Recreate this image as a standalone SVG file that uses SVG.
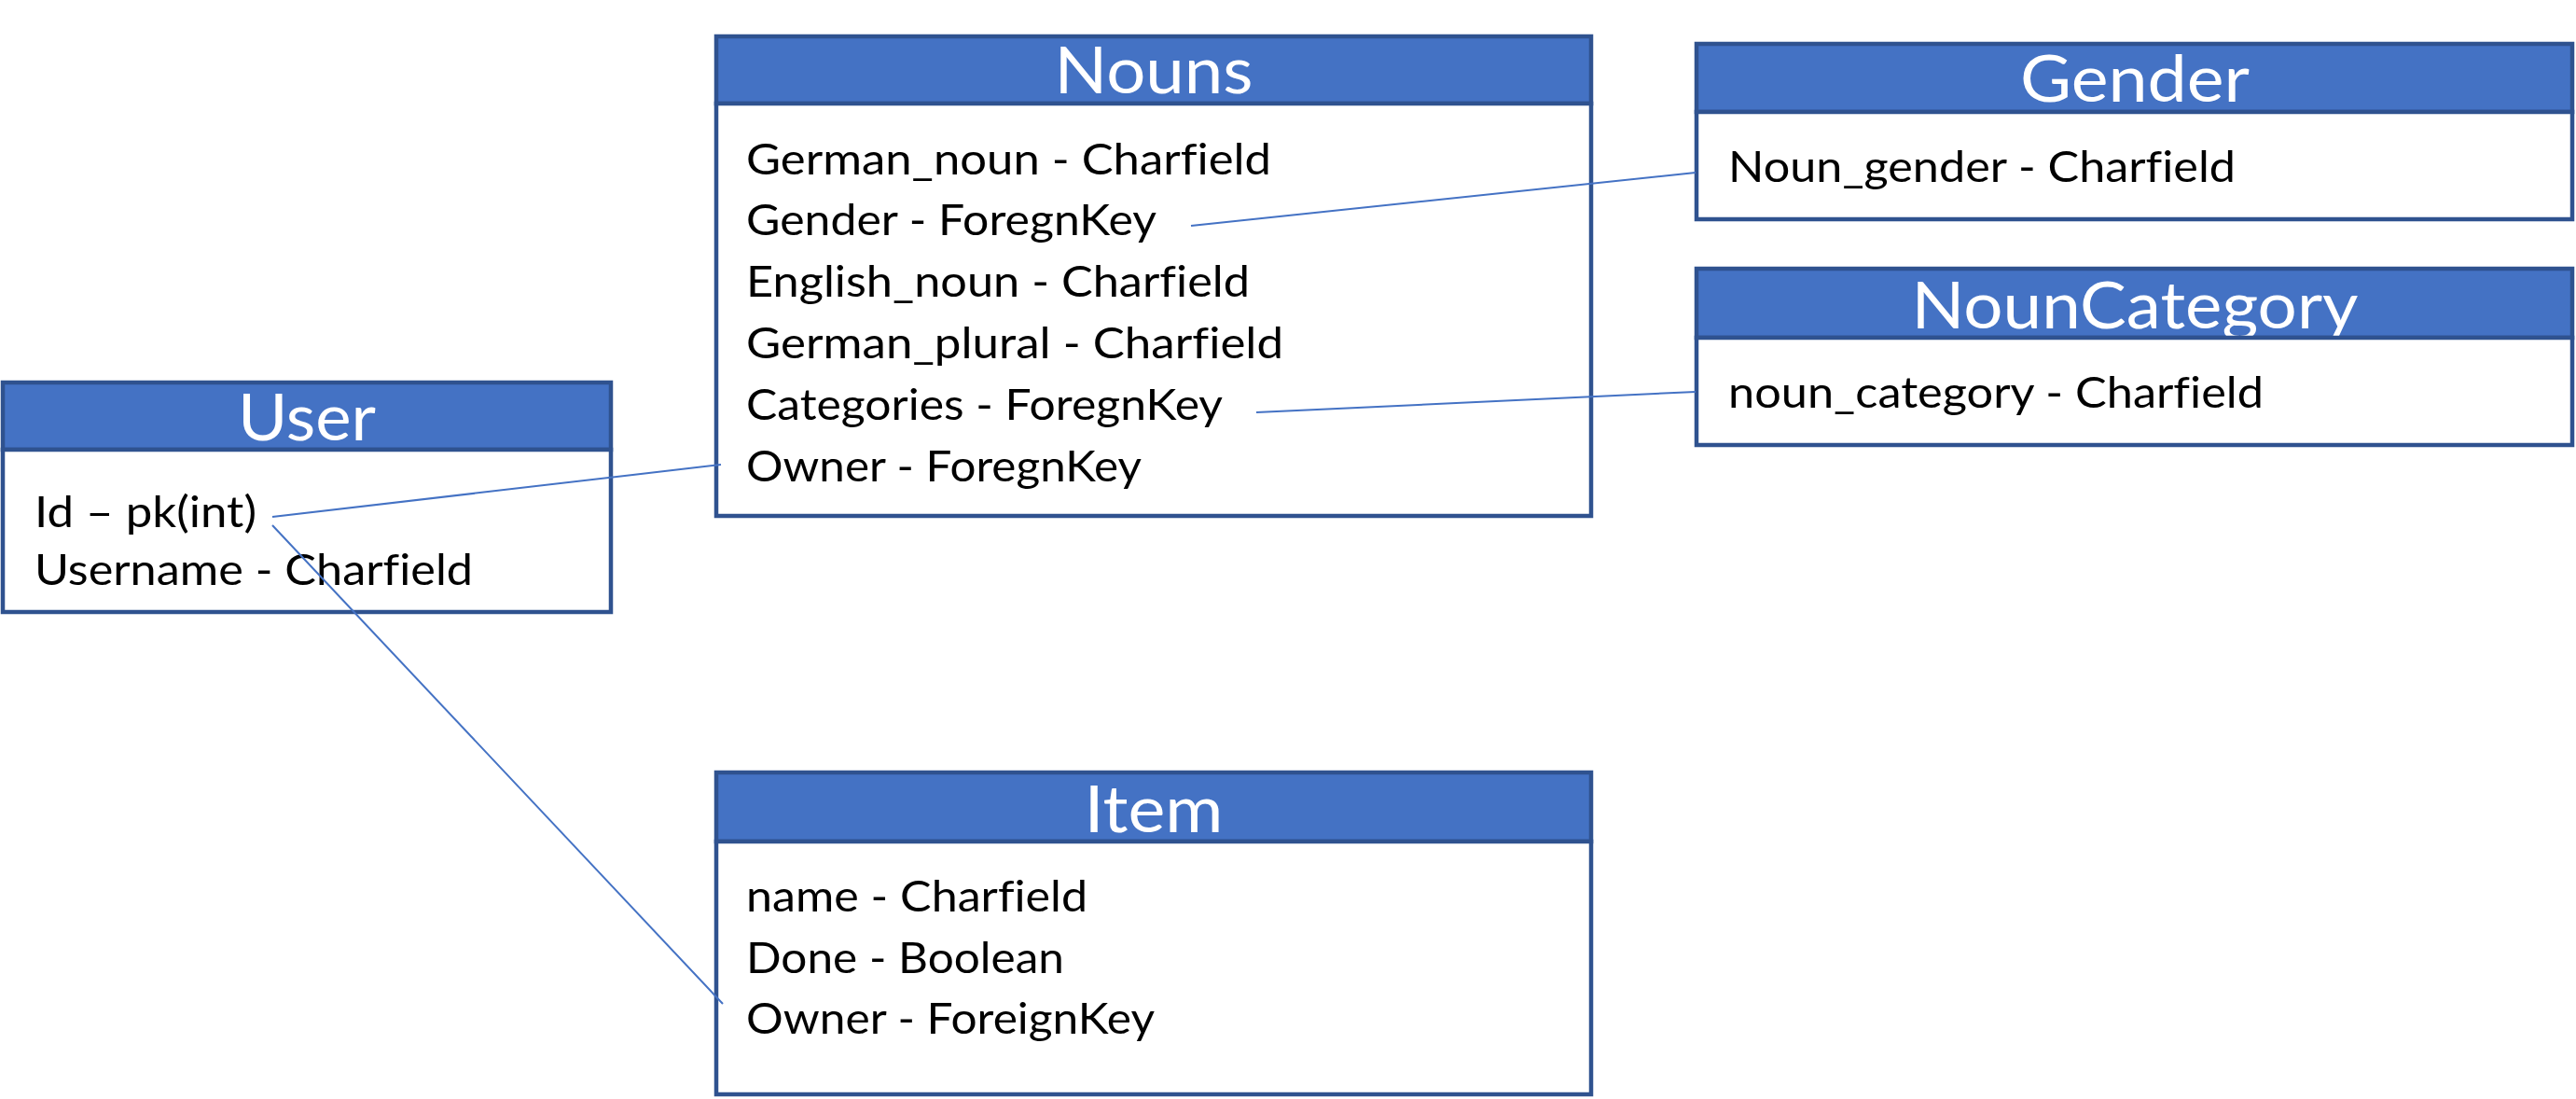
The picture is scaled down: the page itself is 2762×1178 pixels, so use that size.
<svg xmlns="http://www.w3.org/2000/svg" width="2762" height="1178" viewBox="0 0 2762 1178">
<style>
.hdr{fill:#4472C4;stroke:#2F528F;stroke-width:4.5}
.body{fill:#FFFFFF;stroke:#2F528F;stroke-width:4.5}
.title{font-family:Lato,"Open Sans",sans-serif;font-size:70px;fill:#FFFFFF;text-anchor:middle;font-variant-ligatures:none}
.row{font-family:Lato,"Open Sans",sans-serif;font-size:47px;fill:#000000;font-variant-ligatures:none}
.conn{stroke:#4472C4;stroke-width:2;fill:none}
</style>
<rect width="2762" height="1178" fill="#FFFFFF"/>
<g id="node-nouns">
<rect class="hdr" x="768" y="39" width="938" height="72"/>
<text class="title" x="1237" y="100" textLength="213" lengthAdjust="spacingAndGlyphs">Nouns</text>
<rect class="body" x="768" y="111" width="938" height="442"/>
<text class="row" x="800" y="187" textLength="563" lengthAdjust="spacingAndGlyphs">German_noun - Charfield</text>
<text class="row" x="800" y="252" textLength="440" lengthAdjust="spacingAndGlyphs">Gender - ForegnKey</text>
<text class="row" x="800" y="318" textLength="540" lengthAdjust="spacingAndGlyphs">English_noun - Charfield</text>
<text class="row" x="800" y="384" textLength="576" lengthAdjust="spacingAndGlyphs">German_plural - Charfield</text>
<text class="row" x="800" y="450" textLength="511" lengthAdjust="spacingAndGlyphs">Categories - ForegnKey</text>
<text class="row" x="800" y="516" textLength="424" lengthAdjust="spacingAndGlyphs">Owner - ForegnKey</text>
</g>
<g id="node-gender">
<rect class="hdr" x="1819" y="47" width="939" height="73"/>
<text class="title" x="2289" y="109" textLength="246" lengthAdjust="spacingAndGlyphs">Gender</text>
<rect class="body" x="1819" y="120" width="939" height="115"/>
<text class="row" x="1853" y="195" textLength="544" lengthAdjust="spacingAndGlyphs">Noun_gender - Charfield</text>
</g>
<g id="node-nouncategory">
<rect class="hdr" x="1819" y="288" width="939" height="74"/>
<text class="title" x="2289" y="352" textLength="479" lengthAdjust="spacingAndGlyphs">NounCategory</text>
<rect class="body" x="1819" y="362" width="939" height="115"/>
<text class="row" x="1853" y="437" textLength="574" lengthAdjust="spacingAndGlyphs">noun_category - Charfield</text>
</g>
<g id="node-user">
<rect class="hdr" x="3" y="410" width="652" height="72"/>
<text class="title" x="329" y="472" textLength="148" lengthAdjust="spacingAndGlyphs">User</text>
<rect class="body" x="3" y="482" width="652" height="174"/>
<text class="row" x="37" y="565" textLength="238" lengthAdjust="spacingAndGlyphs">Id – pk(int)</text>
<text class="row" x="37" y="627" textLength="470" lengthAdjust="spacingAndGlyphs">Username - Charfield</text>
</g>
<g id="node-item">
<rect class="hdr" x="768" y="828" width="938" height="74"/>
<text class="title" x="1237" y="892" textLength="149" lengthAdjust="spacingAndGlyphs">Item</text>
<rect class="body" x="768" y="902" width="938" height="271"/>
<text class="row" x="800" y="977" textLength="366" lengthAdjust="spacingAndGlyphs">name - Charfield</text>
<text class="row" x="800" y="1043" textLength="341" lengthAdjust="spacingAndGlyphs">Done - Boolean</text>
<text class="row" x="800" y="1108" textLength="438" lengthAdjust="spacingAndGlyphs">Owner - ForeignKey</text>
</g>
<g id="connectors">
<line class="conn" x1="292" y1="554" x2="773" y2="498"/>
<line class="conn" x1="292" y1="563" x2="775" y2="1076"/>
<line class="conn" x1="1277" y1="242" x2="1818" y2="185"/>
<line class="conn" x1="1347" y1="442" x2="1818" y2="420"/>
</g>
</svg>
